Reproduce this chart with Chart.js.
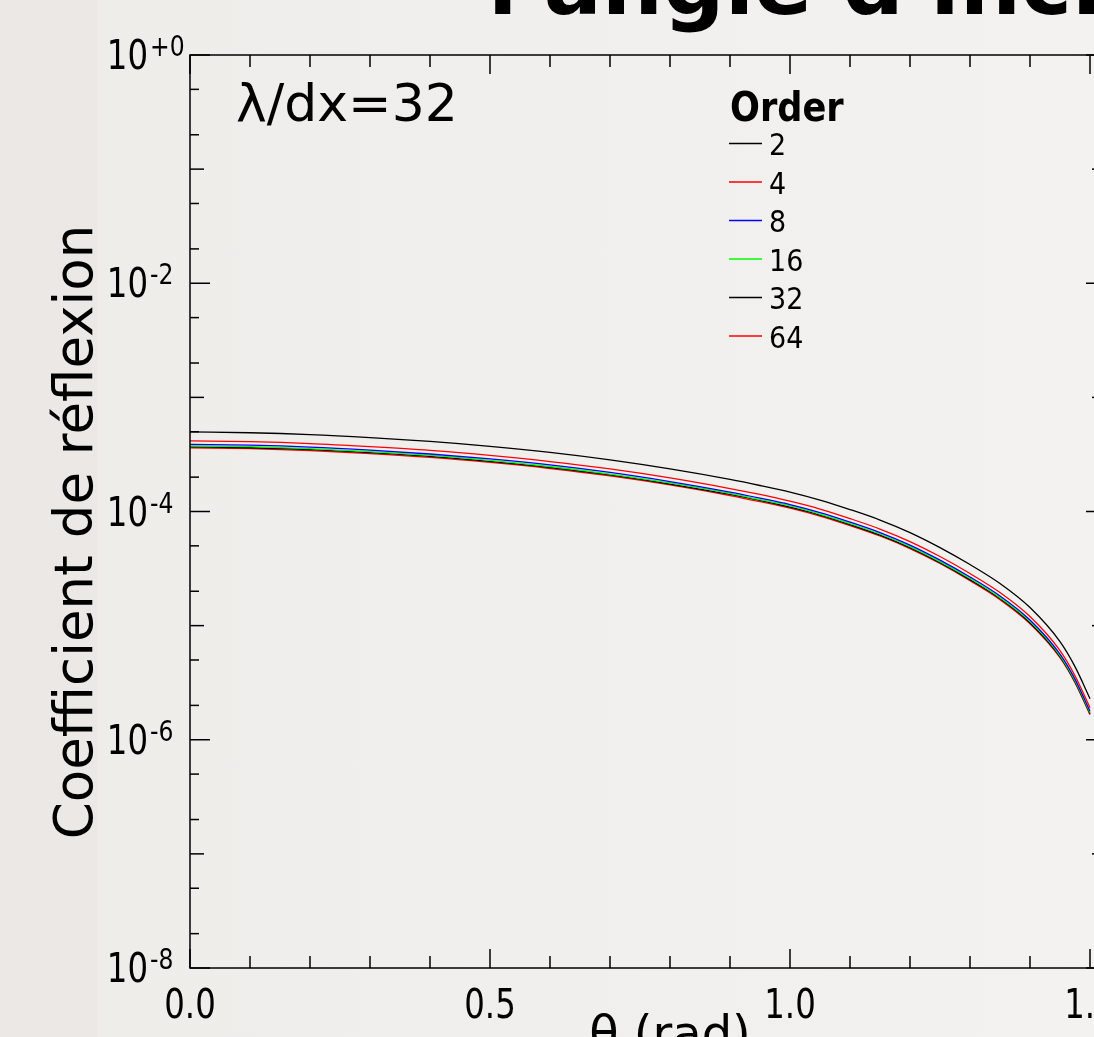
<!DOCTYPE html>
<html>
<head>
<meta charset="utf-8">
<script src="https://cdn.jsdelivr.net/npm/chart.js@4.4.0/dist/chart.umd.min.js"></script>
<style>
    html, body {
        margin: 0;
        padding: 0;
        width: 1094px;
        height: 1037px;
        overflow: hidden;
        background: linear-gradient(to right, #ebe8e5 0px, #ebe8e5 97px, #efedea 98px, #f3f2f0 1094px);
    }
    canvas { display: block; }
</style>
</head>
<body>
<canvas id="reflexion" width="1200" height="1037"></canvas>
<script>
/* valeurs : angle (rad) -> coefficient de réflexion */
const angles = [0, 0.1, 0.2, 0.3, 0.4, 0.5, 0.6, 0.7, 0.8, 0.9, 0.95, 1.0, 1.05, 1.1, 1.15, 1.2, 1.25, 1.3, 1.35, 1.4, 1.45, 1.475, 1.5];

const order2  = [4.98e-4, 4.90e-4, 4.72e-4, 4.44e-4, 4.11e-4, 3.72e-4, 3.29e-4, 2.83e-4, 2.36e-4, 1.91e-4, 1.69e-4, 1.48e-4, 1.26e-4, 1.04e-4, 8.42e-5, 6.54e-5, 4.83e-5, 3.43e-5, 2.34e-5, 1.44e-5, 7.24e-6, 4.37e-6, 2.29e-6];
const order4  = [4.15e-4, 4.09e-4, 3.94e-4, 3.70e-4, 3.43e-4, 3.10e-4, 2.74e-4, 2.36e-4, 1.97e-4, 1.59e-4, 1.41e-4, 1.23e-4, 1.05e-4, 8.67e-5, 7.02e-5, 5.45e-5, 4.03e-5, 2.86e-5, 1.95e-5, 1.20e-5, 6.04e-6, 3.64e-6, 1.91e-6];
const order8  = [3.87e-4, 3.81e-4, 3.67e-4, 3.45e-4, 3.19e-4, 2.89e-4, 2.56e-4, 2.20e-4, 1.83e-4, 1.48e-4, 1.31e-4, 1.15e-4, 9.79e-5, 8.08e-5, 6.54e-5, 5.08e-5, 3.75e-5, 2.67e-5, 1.82e-5, 1.12e-5, 5.63e-6, 3.40e-6, 1.78e-6];
const order16 = [3.76e-4, 3.70e-4, 3.56e-4, 3.35e-4, 3.10e-4, 2.81e-4, 2.48e-4, 2.13e-4, 1.78e-4, 1.44e-4, 1.27e-4, 1.12e-4, 9.50e-5, 7.84e-5, 6.35e-5, 4.93e-5, 3.64e-5, 2.59e-5, 1.76e-5, 1.09e-5, 5.46e-6, 3.29e-6, 1.73e-6];
const order32 = [3.68e-4, 3.62e-4, 3.49e-4, 3.28e-4, 3.04e-4, 2.75e-4, 2.43e-4, 2.09e-4, 1.74e-4, 1.41e-4, 1.25e-4, 1.09e-4, 9.31e-5, 7.69e-5, 6.22e-5, 4.83e-5, 3.57e-5, 2.53e-5, 1.73e-5, 1.06e-5, 5.35e-6, 3.23e-6, 1.69e-6];
const order64 = [3.61e-4, 3.55e-4, 3.42e-4, 3.22e-4, 2.98e-4, 2.69e-4, 2.38e-4, 2.05e-4, 1.71e-4, 1.38e-4, 1.22e-4, 1.07e-4, 9.12e-5, 7.53e-5, 6.10e-5, 4.73e-5, 3.50e-5, 2.48e-5, 1.69e-5, 1.04e-5, 5.24e-6, 3.16e-6, 1.66e-6];

const orderLabels = ['2', '4', '8', '16', '32', '64'];
const orderColors = ['#000000', '#ff0000', '#0000ff', '#00ff00', '#000000', '#ff0000'];
const orderSeries = [order2, order4, order8, order16, order32, order64];

const xTickValues = [0, 0.5, 1.0, 1.5];
const xTickLabels = ['0.0', '0.5', '1.0', '1.5'];
const yTickExps   = [0, -2, -4, -6, -8];
const yTickLabels = ['+0', '-2', '-4', '-6', '-8'];

const FONT = "'DejaVu Sans', sans-serif";

// texte étroit (les labels de la figure sont un peu condensés)
function narrowText(ctx, txt, x, y, sx, align) {
    ctx.save();
    ctx.translate(x, y);
    ctx.scale(sx, 1);
    ctx.textAlign = align;
    ctx.fillText(txt, 0, 0);
    ctx.restore();
}

function line(ctx, x1, y1, x2, y2) {
    ctx.beginPath();
    ctx.moveTo(x1, y1);
    ctx.lineTo(x2, y2);
    ctx.stroke();
}

const framePlugin = {
    id: 'frame',
    afterDraw(chart) {
        const {ctx, chartArea: a, scales} = chart;
        const xs = scales.x, ys = scales.y;
        ctx.save();
        ctx.strokeStyle = '#000';
        ctx.fillStyle = '#000';
        ctx.lineWidth = 1.5;

        // cadre
        ctx.strokeRect(a.left, a.top, a.right - a.left, a.bottom - a.top);

        // ticks y (log) : décades + 2 et 5
        for (let e = 0; e >= -8; e--) {
            const py = ys.getPixelForValue(Math.pow(10, e));
            const len = (e % 2 === 0) ? 20 : 14;
            line(ctx, a.left, py, a.left + len, py);
            line(ctx, a.right, py, a.right - len, py);
            if (e < 0) {
                [2, 5].forEach(m => {
                    const pm = ys.getPixelForValue(m * Math.pow(10, e));
                    line(ctx, a.left, pm, a.left + 9, pm);
                    line(ctx, a.right, pm, a.right - 9, pm);
                });
            }
        }

        // ticks x : tous les 0.1, majeurs tous les 0.5
        for (let i = 0; i <= 15; i++) {
            const px = xs.getPixelForValue(i / 10);
            const len = (i % 5 === 0) ? 19 : 12;
            line(ctx, px, a.bottom, px, a.bottom - len);
            line(ctx, px, a.top, px, a.top + len);
        }

        // labels x
        ctx.font = '40px ' + FONT;
        xTickValues.forEach((v, i) => {
            narrowText(ctx, xTickLabels[i], xs.getPixelForValue(v), a.bottom + 50, 0.81, 'center');
        });

        // labels y : 10^exp
        yTickExps.forEach((e, i) => {
            const py = ys.getPixelForValue(Math.pow(10, e));
            ctx.font = '40px ' + FONT;
            narrowText(ctx, '10', 148, py + 14, 0.81, 'right');
            ctx.font = '29px ' + FONT;
            narrowText(ctx, yTickLabels[i], 150, py + 1, 0.81, 'left');
        });

        // titre de l'axe y
        ctx.save();
        ctx.translate(92, 532);
        ctx.rotate(-Math.PI / 2);
        ctx.font = '53px ' + FONT;
        ctx.textAlign = 'center';
        ctx.fillText('Coefficient de réflexion', 0, 0);
        ctx.restore();

        // titre de l'axe x (coupé en bas)
        ctx.font = '48px ' + FONT;
        ctx.textAlign = 'center';
        ctx.fillText('θ (rad)', 670, 1050);

        // titre du graphe (coupé en haut)
        ctx.font = 'bold 86px ' + FONT;
        ctx.textAlign = 'left';
        ctx.fillText("l'angle d'incidence", 488, 14);

        // annotation
        ctx.font = '52px ' + FONT;
        ctx.fillText('λ/dx=32', 236, 121);

        // légende
        ctx.font = 'bold 40px ' + FONT;
        narrowText(ctx, 'Order', 730, 121, 0.88, 'left');
        ctx.lineWidth = 1.3;
        chart.data.datasets.forEach((ds, i) => {
            const ly = 143.5 + i * 38.5;
            ctx.strokeStyle = ds.borderColor;
            line(ctx, 729, ly, 762, ly);
            ctx.font = '31px ' + FONT;
            narrowText(ctx, ds.label, 769, ly + 11.5, 0.87, 'left');
        });

        ctx.restore();
    }
};

const ctx = document.getElementById('reflexion').getContext('2d');

const chartData = {
    datasets: orderSeries.map((serie, i) => ({
        label: orderLabels[i],
        data: angles.map((a, k) => ({x: a, y: serie[k]})),
        borderColor: orderColors[i],
        borderWidth: 1.3,
        pointRadius: 0,
        fill: false,
        cubicInterpolationMode: 'monotone'
    }))
};

new Chart(ctx, {
    type: 'line',
    data: chartData,
    options: {
        responsive: false,
        maintainAspectRatio: false,
        animation: false,
        devicePixelRatio: 1,
        layout: {
            padding: {left: 190, top: 55, right: 94, bottom: 69}
        },
        scales: {
            x: {
                type: 'linear',
                min: 0,
                max: 916 / 600,
                display: false
            },
            y: {
                type: 'logarithmic',
                min: 1e-8,
                max: 1,
                display: false
            }
        },
        plugins: {
            legend: {display: false},
            tooltip: {enabled: false}
        }
    },
    plugins: [framePlugin]
});
</script>
</body>
</html>
